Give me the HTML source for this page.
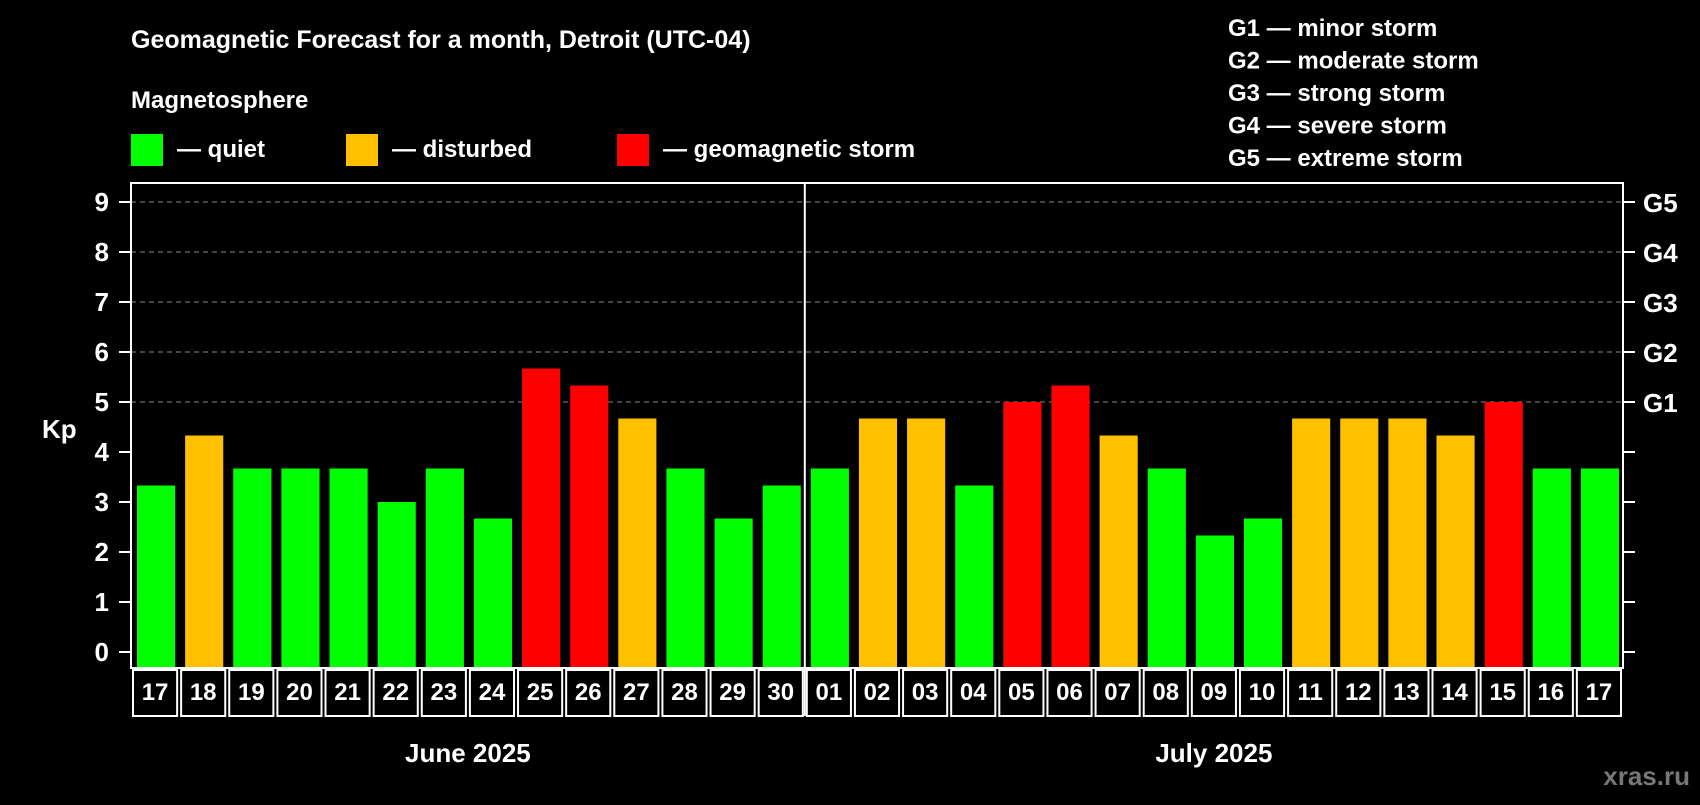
<!DOCTYPE html>
<html><head><meta charset="utf-8"><style>
body{margin:0;background:#000;width:1700px;height:800px;overflow:hidden;font-family:"Liberation Sans",sans-serif}
svg text{font-family:"Liberation Sans",sans-serif;font-weight:bold;fill:#fff}
</style></head><body>
<svg id="c" width="1700" height="800"></svg>
<script>
const days=["17","18","19","20","21","22","23","24","25","26","27","28","29","30","01","02","03","04","05","06","07","08","09","10","11","12","13","14","15","16","17"];
const kp=[3.33,4.33,3.67,3.67,3.67,3,3.67,2.67,5.67,5.33,4.67,3.67,2.67,3.33,3.67,4.67,4.67,3.33,5,5.33,4.33,3.67,2.33,2.67,4.67,4.67,4.67,4.33,5,3.67,3.67];
const yTicks=[0,1,2,3,4,5,6,7,8,9];
const gLabels=["G1","G2","G3","G4","G5"];
const months=["June 2025","July 2025"];
const svg=document.getElementById('c');const NS="http://www.w3.org/2000/svg";
function mk(t,a,p){const e=document.createElementNS(NS,t);for(const k in a)e.setAttribute(k,a[k]);(p||svg).appendChild(e);return e;}
const L=131,R=1623,T=183,B=668,Y0=652,U=50;
const y=v=>Y0-v*U;const pitch=(R-L)/days.length;const x=i=>L+i*pitch;
function txt(s,a,name){const e=mk('text',a);e.textContent=s;return e;}
txt("Geomagnetic Forecast for a month, Detroit (UTC-04)",{x:131,y:48,'font-size':25},'chart-title');
txt("Magnetosphere",{x:131,y:108,'font-size':24},'legend-title');
const leg=[["#00ff00","— quiet",131],["#ffc000","— disturbed",346],["#ff0000","— geomagnetic storm",617]];
leg.forEach(l=>{const r=mk('rect',{x:l[2],y:134,width:32,height:32,fill:l[0]});
txt(l[1],{x:l[2]+46,y:157,'font-size':24},'legend-entry');});
["G1 — minor storm","G2 — moderate storm","G3 — strong storm","G4 — severe storm","G5 — extreme storm"].forEach((s,i)=>txt(s,{x:1228,y:36+i*32.5,'font-size':24},'storm-legend-entry'));
// grid
for(let v=5;v<=9;v++){const g=mk('line',{x1:L,x2:R,y1:y(v),y2:y(v),stroke:'#888','stroke-dasharray':'5,4','stroke-width':1});}
// bars
kp.forEach((v,i)=>{const c=v>=5?'#ff0000':(v>=4?'#ffc000':'#00ff00');
const r=mk('rect',{x:x(i)+6,y:y(v),width:pitch-10,height:B-y(v),fill:c});});
// frame
const f=mk('rect',{x:L,y:T,width:R-L,height:B-T,fill:'none',stroke:'#fff','stroke-width':2});
yTicks.forEach(v=>{mk('line',{x1:L-12,x2:L,y1:y(v),y2:y(v),stroke:'#fff','stroke-width':2});mk('line',{x1:R,x2:R+12,y1:y(v),y2:y(v),stroke:'#fff','stroke-width':2});
txt(String(v),{x:L-22,y:y(v)+9,'font-size':26,'text-anchor':'end'},'y-tick-label');});
gLabels.forEach((g,i)=>txt(g,{x:R+20,y:y(i+5)+10,'font-size':26},'g-scale-label'));
txt("Kp",{x:42,y:438,'font-size':26},'y-axis-title');
// day label cells
const LB=716;
days.forEach((d,i)=>{mk('rect',{x:x(i)+2,y:B+2,width:pitch-4,height:LB-B-2,fill:'none',stroke:'#fff','stroke-width':2});
txt(d,{x:x(i)+pitch/2,y:B+32,'font-size':24,'text-anchor':'middle'},'day-label');});
const dv=mk('line',{x1:x(14),x2:x(14),y1:T,y2:LB,stroke:'#fff','stroke-width':2});
txt(months[0],{x:(x(0)+x(14))/2,y:762,'font-size':26,'text-anchor':'middle'},'month-label');
txt(months[1],{x:(x(14)+x(31))/2,y:762,'font-size':26,'text-anchor':'middle'},'month-label');
const w=txt("xras.ru",{x:1690,y:785,'font-size':26,'text-anchor':'end'},'watermark');w.style.fill='#777';
</script>
</body></html>
